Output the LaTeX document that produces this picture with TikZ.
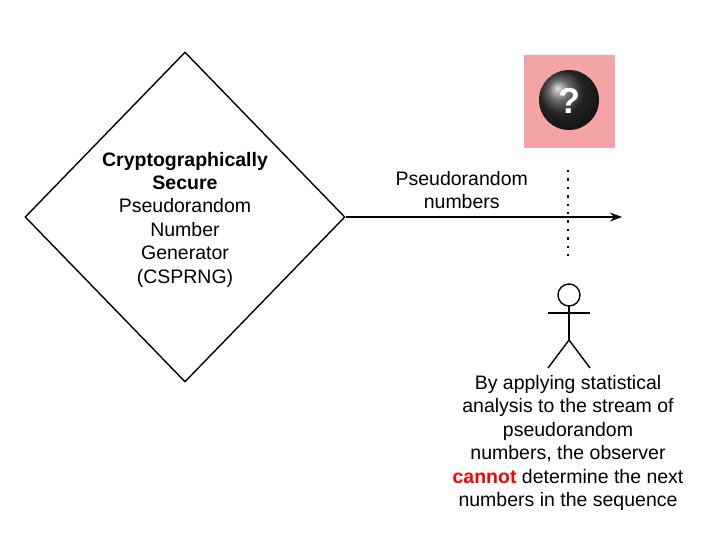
\documentclass[tikz,border=0pt]{standalone}
\usepackage{fontspec}
\setmainfont{Liberation Sans}
\usetikzlibrary{shapes.geometric,positioning,arrows.meta}
\definecolor{pinkbox}{HTML}{F4A4A4}
\begin{document}
\begin{tikzpicture}[x=1pt,y=-1pt,line width=1.4pt,
  lbl/.style={align=center,font=\fontsize{19.5}{23.5}\selectfont}]
\useasboundingbox (0,0) rectangle (720,539);
\node[draw,diamond,minimum width=320pt,minimum height=330pt,inner sep=0pt] (gen) at (185,217) {};
\node[lbl] (gentext) at (185,220) {\textbf{Cryptographically}\\[-1pt]\textbf{Secure}\\Pseudorandom\\Number\\Generator\\(CSPRNG)};
\coordinate (end) at (622,217);
\draw[-{Stealth[length=12pt,width=9pt]}] (gen.east) -- (end) node[lbl,pos=0.42,above=4pt]{Pseudorandom\\numbers};
\draw[line width=2.4pt,dash pattern=on 2.4pt off 6pt] (568,170) -- (568,262);
\fill[pinkbox] (524,55) rectangle (615,148);
\shade[ball color=black!80] (569,100) circle (30);
\node[text=white,font=\fontsize{36}{36}\selectfont\bfseries] (q) at (569,101) {?};
\draw (569,295) circle (11);
\draw (569,306) -- (569,340);
\draw (548,313) -- (590,313);
\draw (548,368) -- (569,340) -- (590,368);
\node[lbl,anchor=north] (obs) at (568,371) {By applying statistical\\analysis to the stream of\\pseudorandom\\numbers, the observer\\\textcolor{red}{\textbf{cannot}} determine the next\\numbers in the sequence};
\end{tikzpicture}
\end{document}
